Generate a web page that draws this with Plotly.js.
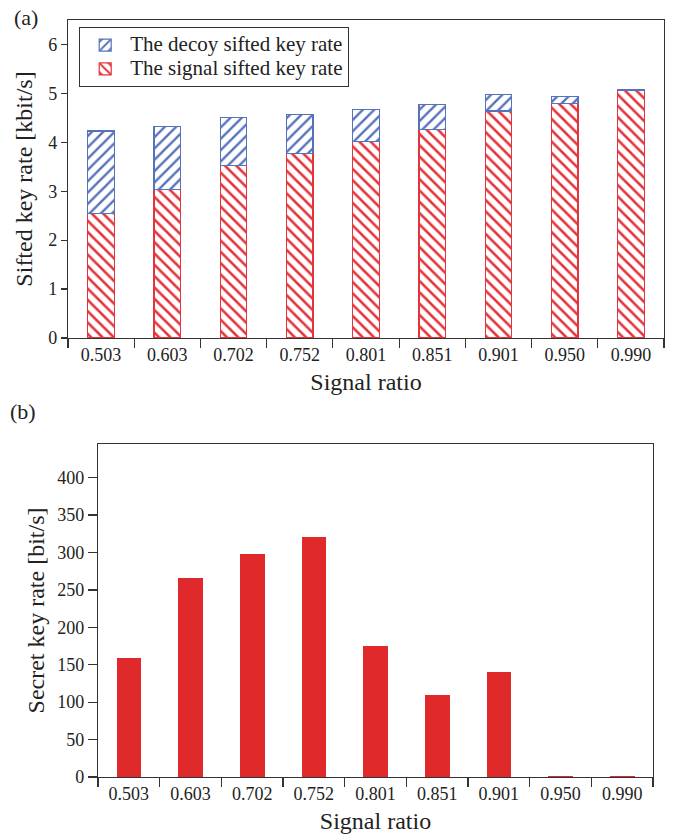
<!DOCTYPE html>
<html>
<head>
<meta charset="utf-8">
<script src="https://cdn.plot.ly/plotly-3.0.1.min.js"></script>
<style>html,body{margin:0;padding:0;background:#fff;}#chart{width:679px;height:839px;}</style>
</head>
<body>
<div id="chart"></div>
<script>
const categories = ["0.503","0.603","0.702","0.752","0.801","0.851","0.901","0.950","0.990"];
const signalSifted = [2.54, 3.04, 3.53, 3.77, 4.02, 4.27, 4.64, 4.79, 5.06];
const totalSifted  = [4.23, 4.33, 4.50, 4.57, 4.67, 4.77, 4.97, 4.93, 5.08];
const decoySifted = totalSifted.map((t, i) => +(t - signalSifted[i]).toFixed(2));
const secretRate = [159, 266, 298, 321, 175, 110, 140, 1.5, 1.5];
const yTicksA = [0, 1, 2, 3, 4, 5, 6];
const yTicksB = [0, 50, 100, 150, 200, 250, 300, 350, 400];

const RED = "rgb(228,52,60)";
const BLUE = "rgb(86,114,186)";
const FILL = "rgb(224,41,43)";
const FONT = "Liberation Serif";
const AX = "#333";
const big = s => '<span style="font-size:21px">' + s + '</span>';

const traces = [
  {
    type: "bar", name: big("The signal sifted key rate"), x: categories, y: signalSifted,
    xaxis: "x", yaxis: "y", width: 0.4,
    marker: {color: "white", line: {color: RED, width: 1.2},
      pattern: {shape: "\\", fgcolor: RED, bgcolor: "white", size: 8, solidity: 0.32}},
    legendrank: 2
  },
  {
    type: "bar", name: big("The decoy sifted key rate"), x: categories, y: decoySifted,
    xaxis: "x", yaxis: "y", width: 0.4,
    marker: {color: "white", line: {color: BLUE, width: 1.2},
      pattern: {shape: "/", fgcolor: BLUE, bgcolor: "white", size: 8, solidity: 0.3}},
    legendrank: 1
  },
  {
    type: "bar", name: "Secret key rate", x: categories, y: secretRate,
    xaxis: "x2", yaxis: "y2", width: 0.4, showlegend: false,
    marker: {color: FILL, line: {width: 0}}
  }
];

const axisCommon = {
  showline: true, linecolor: AX, linewidth: 1.2, mirror: true,
  ticks: "outside", tickcolor: AX, tickwidth: 1.2,
  showgrid: false, zeroline: false,
  tickfont: {family: FONT, size: 18, color: "#222"}
};

const layout = {
  width: 679, height: 839,
  margin: {l: 0, r: 0, t: 0, b: 0},
  paper_bgcolor: "white", plot_bgcolor: "white",
  barmode: "stack",
  font: {family: FONT, color: "#222"},
  showlegend: true,
  legend: {
    x: 79/679, y: 1 - 27/839, xanchor: "left", yanchor: "top",
    bordercolor: AX, borderwidth: 1.2, bgcolor: "white",
    font: {family: FONT, size: 16, color: "#222"},
    traceorder: "normal", itemwidth: 40, tracegroupgap: 0
  },
  xaxis: Object.assign({}, axisCommon, {
    domain: [68/679, 664/679], anchor: "y", type: "category",
    tickson: "boundaries", ticklen: 9,
    title: {text: "Signal ratio", font: {family: FONT, size: 24, color: "#222"}, standoff: 9}
  }),
  yaxis: Object.assign({}, axisCommon, {
    domain: [1 - 338/839, 1 - 20/839], anchor: "x", range: [0, 6.5],
    tickvals: yTicksA, ticklen: 6,
    title: {text: "Sifted key rate [kbit/s]", font: {family: FONT, size: 24, color: "#222"}, standoff: 8}
  }),
  xaxis2: Object.assign({}, axisCommon, {
    domain: [98/679, 653/679], anchor: "y2", type: "category",
    tickson: "boundaries", ticklen: 9,
    title: {text: "Signal ratio", font: {family: FONT, size: 24, color: "#222"}, standoff: 9}
  }),
  yaxis2: Object.assign({}, axisCommon, {
    domain: [1 - 777/839, 1 - 444/839], anchor: "x2", range: [0, 445],
    tickvals: yTicksB, ticklen: 9,
    title: {text: "Secret key rate [bit/s]", font: {family: FONT, size: 24, color: "#222"}, standoff: 5}
  }),
  annotations: [
    {text: "(a)", xref: "paper", yref: "paper", x: 12/679, y: 1 - 3/839, xanchor: "left", yanchor: "top",
     showarrow: false, font: {family: FONT, size: 22, color: "#222"}},
    {text: "(b)", xref: "paper", yref: "paper", x: 8/679, y: 1 - 397/839, xanchor: "left", yanchor: "top",
     showarrow: false, font: {family: FONT, size: 22, color: "#222"}}
  ]
};

Plotly.newPlot("chart", traces, layout, {displayModeBar: false, staticPlot: true});
</script>
</body>
</html>
